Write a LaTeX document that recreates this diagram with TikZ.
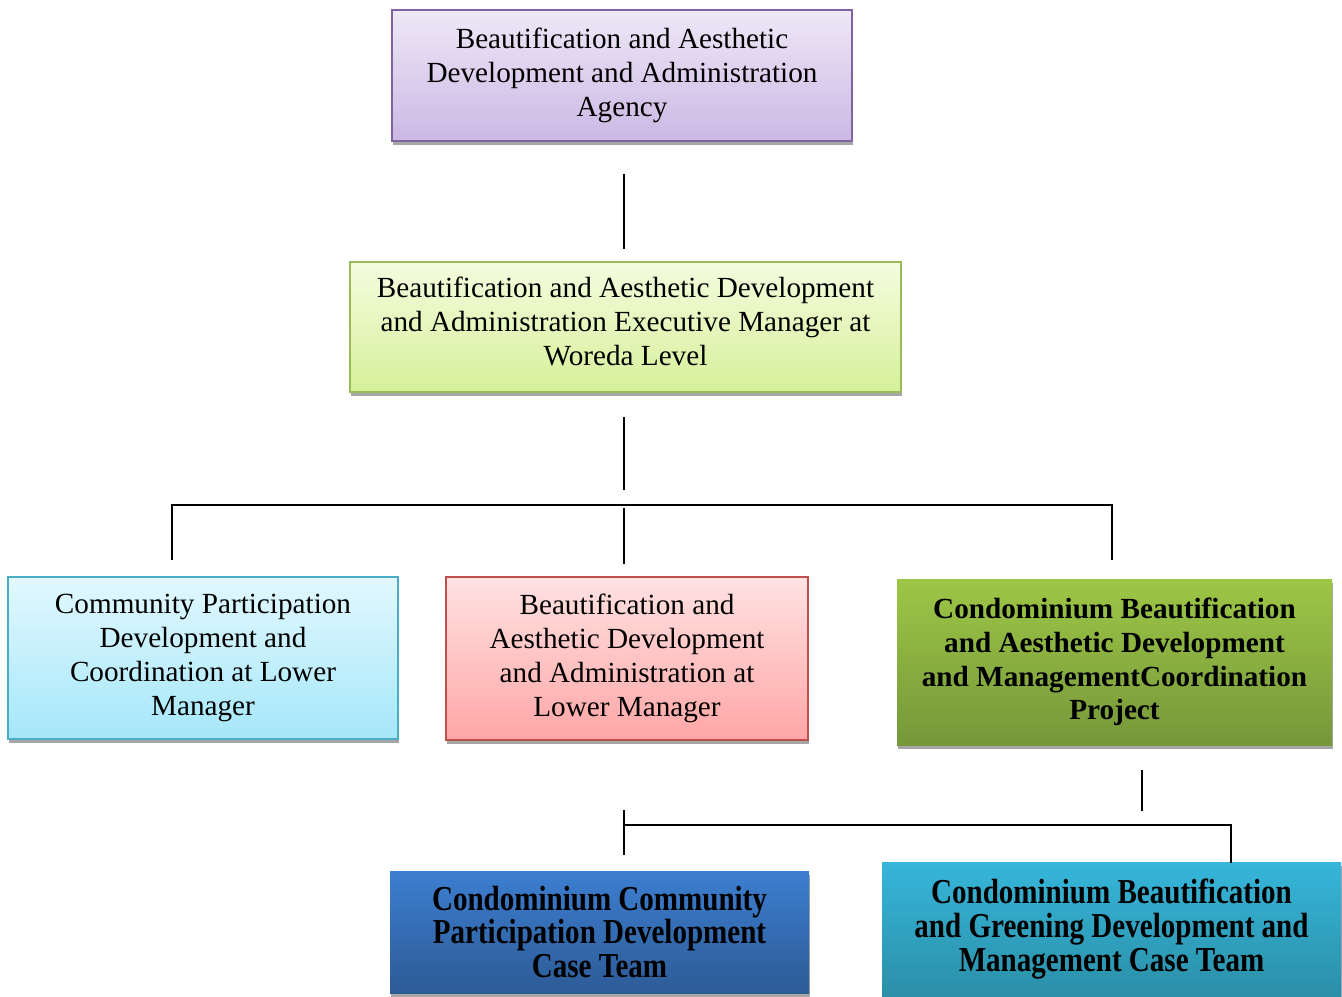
\documentclass[tikz,border=0pt]{standalone}
\usepackage{fontspec}
\setmainfont{Liberation Serif}
\newfontfamily\tallserif[FakeStretch=0.83]{Liberation Serif}
\usetikzlibrary{shadows}

\definecolor{agencyline}{HTML}{8064A2}
\definecolor{agencytop}{HTML}{EEE8F7}
\definecolor{agencybot}{HTML}{CBB8E4}
\definecolor{woredaline}{HTML}{9BBB59}
\definecolor{woredatop}{HTML}{F4FCDE}
\definecolor{woredabot}{HTML}{D6F09A}
\definecolor{communityline}{HTML}{4BACC6}
\definecolor{communitytop}{HTML}{E2F8FE}
\definecolor{communitybot}{HTML}{A5E7FA}
\definecolor{lowerline}{HTML}{C0504D}
\definecolor{lowertop}{HTML}{FFE2E2}
\definecolor{lowerbot}{HTML}{FFA6A6}
\definecolor{projecttop}{HTML}{9DC646}
\definecolor{projectbot}{HTML}{76973A}
\definecolor{teamatop}{HTML}{3C7ED0}
\definecolor{teamabot}{HTML}{2D5B96}
\definecolor{teambtop}{HTML}{36B6DA}
\definecolor{teambbot}{HTML}{2B8FA8}
\definecolor{shadowgray}{HTML}{A6A6A6}

\begin{document}
\begin{tikzpicture}[x=0.5pt,y=-0.5pt]
	\tikzstyle{every node}+=[inner sep=0pt]
	\tikzstyle{unit}=[rectangle, align=center, line width=0.8pt,
		font=\fontsize{14.6}{17}\selectfont,
		drop shadow={shadow xshift=0.4pt, shadow yshift=-2pt, fill=shadowgray, opacity=1}]
	\tikzstyle{project}=[unit, font=\bfseries\fontsize{14.6}{16.9}\selectfont]
	\tikzstyle{team}=[unit, font=\tallserif\bfseries\fontsize{17.5}{16.8}\selectfont]
	\tikzstyle{link}=[black, line width=1pt]
	\useasboundingbox (0,0) rectangle (1342,996);

	\node [unit, draw=agencyline, top color=agencytop, bottom color=agencybot,
		minimum width=230pt, minimum height=65.5pt] (agency) at (622,75.5)
		{Beautification and Aesthetic\\Development and Administration\\Agency};
	\node [unit, draw=woredaline, top color=woredatop, bottom color=woredabot,
		minimum width=275.5pt, minimum height=65pt, text depth=6pt] (woreda) at (625.5,327)
		{Beautification and Aesthetic Development\\and Administration Executive Manager at\\Woreda Level};
	\node [unit, draw=communityline, top color=communitytop, bottom color=communitybot,
		minimum width=195pt, minimum height=81pt] (community) at (203,658)
		{Community Participation\\Development and\\Coordination at Lower\\Manager};
	\node [unit, draw=lowerline, top color=lowertop, bottom color=lowerbot,
		minimum width=181pt, minimum height=81.5pt] (lower) at (627,658.5)
		{Beautification and\\Aesthetic Development\\and Administration at\\Lower Manager};
	\node [project, top color=projecttop, bottom color=projectbot,
		minimum width=217.5pt, minimum height=83pt] (project) at (1114.5,662)
		{Condominium Beautification\\and Aesthetic Development\\and ManagementCoordination\\Project};
	\node [team, top color=teamatop, bottom color=teamabot,
		minimum width=209.5pt, minimum height=61pt] (teama) at (599.5,932)
		{Condominium Community\\Participation Development\\Case Team};
	\node [team, top color=teambtop, bottom color=teambbot,
		minimum width=229.5pt, minimum height=67pt] (teamb) at (1111.5,929)
		{Condominium Beautification\\and Greening Development and\\Management Case Team};

	\coordinate (agencyend) at (624,174);
	\coordinate (woredatip) at (624,249);
	\coordinate (woredaend) at (624,417);
	\coordinate (bustip) at (624,490);
	\coordinate (busleft) at (172,505);
	\coordinate (busright) at (1112,505);
	\coordinate (communitytip) at (172,560);
	\coordinate (projecttip) at (1112,560);
	\coordinate (lowerend) at (624,508);
	\coordinate (lowertip) at (624,564);
	\coordinate (projectend) at (1142,770);
	\coordinate (projectdrop) at (1142,811);
	\coordinate (teambus) at (624,825);
	\coordinate (teamcorner) at (1231,825);
	\coordinate (teambtip) at (1231,863);
	\coordinate (teamaend) at (624,810);
	\coordinate (teamatip) at (624,855);

	\draw [link] (agencyend) -- (woredatip);
	\draw [link] (woredaend) -- (bustip);
	\draw [link] (communitytip) -- (busleft) -- (busright) -- (projecttip);
	\draw [link] (lowerend) -- (lowertip);
	\draw [link] (projectend) -- (projectdrop);
	\draw [link] (teamaend) -- (teamatip);
	\draw [link] (teambus) -- (teamcorner) -- (teambtip);
\end{tikzpicture}
\end{document}
